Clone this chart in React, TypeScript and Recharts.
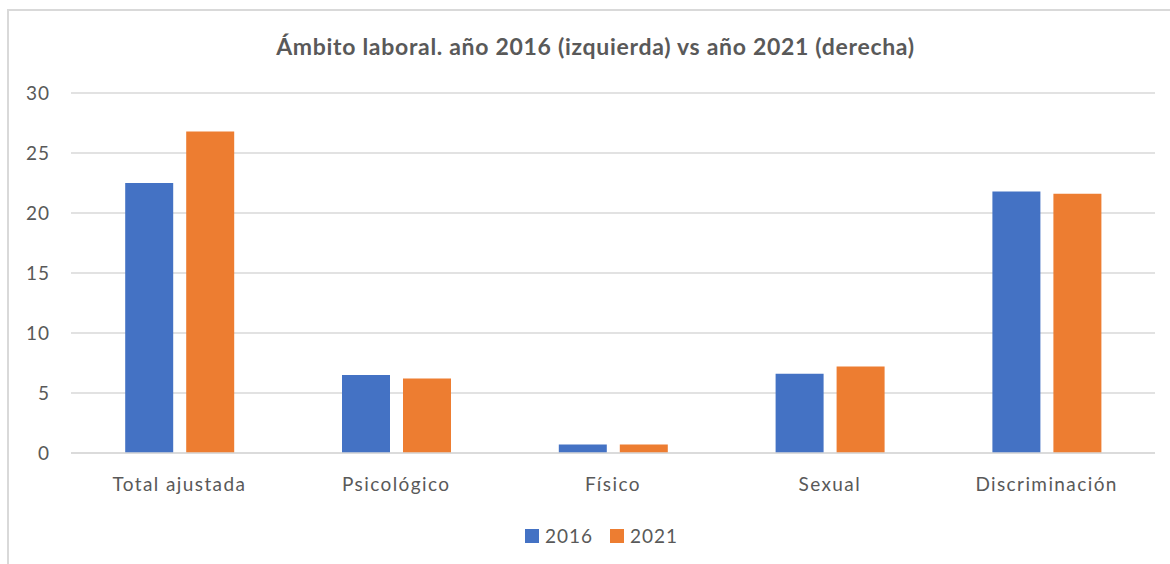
import { BarChart, Bar, XAxis, YAxis, CartesianGrid, Legend } from 'recharts';

const categories = ['Total ajustada', 'Psicológico', 'Físico', 'Sexual', 'Discriminación'];
const values2016 = [22.5, 6.5, 0.7, 6.6, 21.8];
const values2021 = [26.8, 6.2, 0.7, 7.2, 21.6];
const yTicks = [0, 5, 10, 15, 20, 25, 30];

const BLUE = '#4472c4';
const ORANGE = '#ed7d31';
const TEXT = '#595959';
const FONT = 'Lato, "Open Sans", sans-serif';

const data = categories.map((name, i) => ({
  name,
  y2016: values2016[i],
  y2021: values2021[i],
}));

function LegendContent() {
  const items = [
    { label: '2016', color: BLUE },
    { label: '2021', color: ORANGE },
  ];
  return (
    <div style={{ display: 'flex', justifyContent: 'center', paddingLeft: 50, fontFamily: FONT, fontSize: 19, color: TEXT, letterSpacing: 1, lineHeight: '20px' }}>
      {items.map((it) => (
        <div key={it.label} style={{ display: 'flex', alignItems: 'center', marginRight: 17 }}>
          <span style={{ display: 'inline-block', width: 14, height: 14, background: it.color, marginRight: 6 }} />
          <span>{it.label}</span>
        </div>
      ))}
    </div>
  );
}

export default function App() {
  return (
    <div style={{ position: 'absolute', left: 0, top: 0, width: 1170, height: 564, overflow: 'hidden', background: '#fff' }}>
      <div style={{ position: 'absolute', left: 7, top: 9, width: 1200, height: 600, border: '2px solid #d9d9d9' }} />
      <div
        style={{
          position: 'absolute',
          left: 0,
          top: 32,
          width: 1191,
          textAlign: 'center',
          fontFamily: FONT,
          fontWeight: 700,
          fontSize: 23,
          letterSpacing: 0.7,
          color: TEXT,
        }}
      >
        Ámbito laboral. año 2016 (izquierda) vs año 2021 (derecha)
      </div>
      <div style={{ position: 'absolute', left: 0, top: 0 }}>
        <BarChart
          width={1170}
          height={564}
          data={data}
          margin={{ top: 93, right: 15, left: 21, bottom: 71 }}
          barCategoryGap="25%"
          barGap={13}
        >
          <CartesianGrid vertical={false} stroke="#d9d9d9" strokeWidth={1.5} />
          <XAxis
            dataKey="name"
            axisLine={{ stroke: '#d9d9d9', strokeWidth: 1.5 }}
            tickLine={false}
            tickSize={0}
            tickMargin={25}
            height={40}
            tick={{ fill: TEXT, fontSize: 19, fontFamily: FONT, letterSpacing: 1.4 }}
            interval={0}
          />
          <YAxis
            domain={[0, 30]}
            ticks={yTicks}
            axisLine={false}
            tickLine={false}
            tickSize={0}
            tickMargin={21}
            width={50}
            tick={{ fill: TEXT, fontSize: 19, fontFamily: FONT, letterSpacing: 1 }}
          />
          <Legend
            content={<LegendContent />}
            wrapperStyle={{ position: 'absolute', top: 526, left: 0, width: 1170, height: 0, overflow: 'visible' }}
          />
          <Bar dataKey="y2016" name="2016" fill={BLUE} isAnimationActive={false} />
          <Bar dataKey="y2021" name="2021" fill={ORANGE} isAnimationActive={false} />
        </BarChart>
      </div>
    </div>
  );
}
